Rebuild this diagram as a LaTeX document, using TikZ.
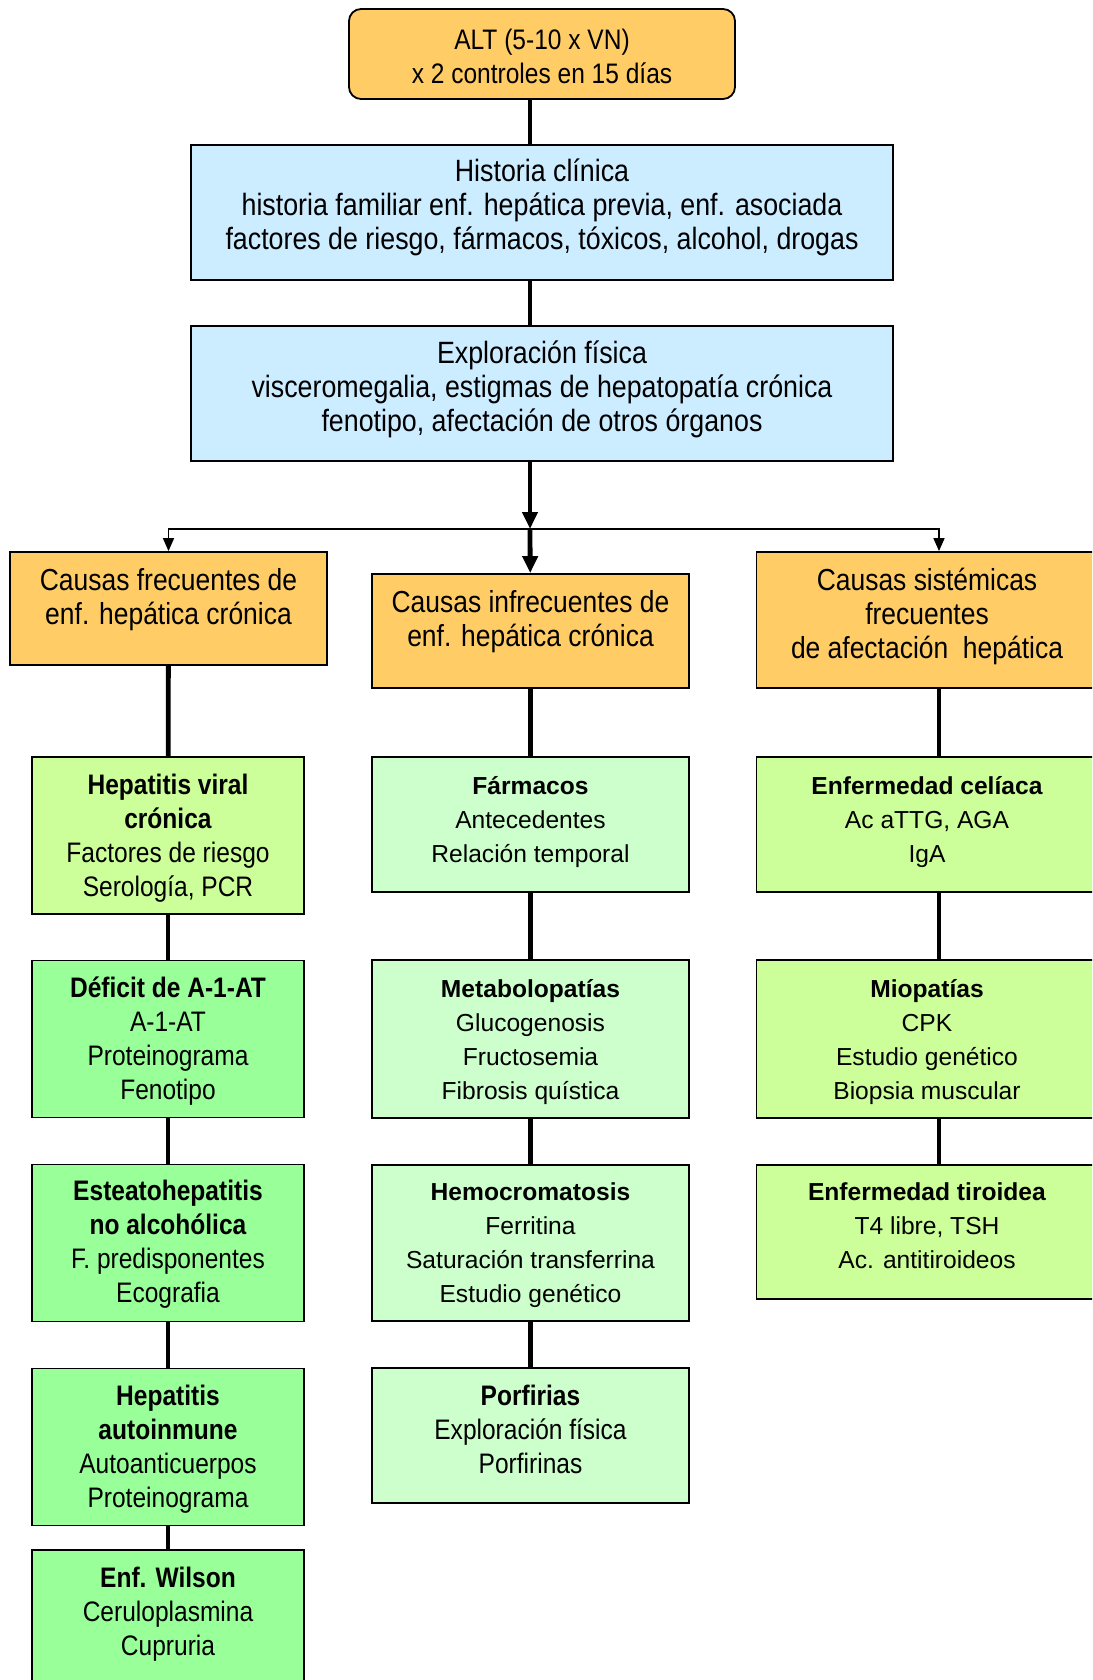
\documentclass[tikz,border=0pt]{standalone}
\usepackage{fontspec}
\setmainfont{Liberation Sans}
\newfontfamily\narrowfont[FakeStretch=0.87]{Liberation Sans}
\usepackage{tikz}
\usetikzlibrary{arrows.meta}

\definecolor{boxorange}{HTML}{FFCC66}
\definecolor{boxblue}{HTML}{CCECFF}
\definecolor{limegreen}{HTML}{CCFF99}
\definecolor{mintgreen}{HTML}{99FF99}
\definecolor{palegreen}{HTML}{CCFFCC}

\newcommand\nsmall{\narrowfont\fontsize{14.1}{17}\selectfont}
\newcommand\nlarge{\narrowfont\fontsize{15.4}{17}\selectfont}
\newcommand\nhead{\narrowfont\fontsize{15.2}{17}\selectfont}
\newcommand\rsmall{\fontsize{12.3}{17}\selectfont}
% text block, moved up (or down) inside its box
\newcommand\liftup[2][0pt]{\raisebox{#1}[\height][\depth]{\begin{tabular}{@{}c@{}}#2\end{tabular}}}

\begin{document}
\begin{tikzpicture}[x=0.5pt, y=-0.5pt,
        box/.style = {draw, line width=0.9pt, align=center, inner sep=0pt},
        start/.style = {box, fill=boxorange, rounded corners=6pt, font=\nsmall},
        exam/.style = {box, fill=boxblue, font=\nlarge, minimum width=351pt, minimum height=67.5pt},
        cause/.style = {box, fill=boxorange, font=\nhead, minimum width=158.5pt},
        leftbox/.style = {box, font=\nsmall, minimum width=136pt, minimum height=78.5pt},
        midbox/.style = {box, fill=palegreen, font=\rsmall, minimum width=158.5pt, minimum height=67.5pt},
        rightbox/.style = {box, fill=limegreen, font=\rsmall, minimum width=170.5pt, minimum height=67.5pt},
        link/.style = {line width=2.4pt},
        bigarrow/.style = {line width=2.4pt, -{Triangle[length=8.5pt,width=7.5pt]}},
        smallarrow/.style = {line width=0.8pt, -{Triangle[length=6.5pt,width=5.5pt]}}]
        \useasboundingbox (0,0) rectangle (1092,1680);
        \clip (0,0) rectangle (1092,1680);
        \node[start, minimum width=193pt, minimum height=45pt] (1) at (542,54) {\liftup[-3pt]{ALT (5-10 x VN)\\x 2 controles en 15 días}};
        \node[exam] (2) at (542,212.5) {\liftup[2pt]{Historia clínica\\historia familiar enf. hepática previa, enf. asociada\\factores de riesgo, fármacos, tóxicos, alcohol, drogas}};
        \node[exam] (3) at (542,393.5) {\liftup[1.6pt]{Exploración física\\visceromegalia, estigmas de hepatopatía crónica\\fenotipo, afectación de otros órganos}};
        \node[cause, minimum height=56.5pt] (4) at (168.5,608.5) {\liftup[4pt]{Causas frecuentes de\\enf. hepática crónica}};
        \node[cause, minimum height=57pt] (5) at (530.5,631) {\liftup[4pt]{Causas infrecuentes de\\enf. hepática crónica}};
        \node[cause, minimum width=170.5pt, minimum height=68pt] (6) at (927,620) {\liftup[1pt]{Causas sistémicas\\frecuentes\\de afectación~ hepática}};
        % frecuentes
        \node[leftbox, fill=limegreen] (7) at (168,835.5) {\liftup[-1.6pt]{\textbf{Hepatitis viral}\\\textbf{crónica}\\Factores de riesgo\\Serología, PCR}};
        \node[leftbox, fill=mintgreen] (8) at (168,1039) {\liftup[-1.5pt]{\textbf{Déficit de A-1-AT}\\A-1-AT\\Proteinograma\\Fenotipo}};
        \node[leftbox, fill=mintgreen] (9) at (168,1243) {\liftup[-1pt]{\textbf{Esteatohepatitis}\\\textbf{no alcohólica}\\F. predisponentes\\Ecografia}};
        \node[leftbox, fill=mintgreen] (10) at (168,1447) {\liftup[-1.5pt]{\textbf{Hepatitis}\\\textbf{autoinmune}\\Autoanticuerpos\\Proteinograma}};
        \node[leftbox, fill=mintgreen, minimum height=67.5pt] (11) at (168,1617.5) {\liftup[1.5pt]{\textbf{Enf. Wilson}\\Ceruloplasmina\\Cupruria}};
        % infrecuentes
        \node[midbox] (12) at (530.5,824.5) {\liftup[1.5pt]{\textbf{Fármacos}\\Antecedentes\\Relación temporal}};
        \node[midbox, minimum height=79pt] (13) at (530.5,1039) {\liftup[-1.5pt]{\textbf{Metabolopatías}\\Glucogenosis\\Fructosemia\\Fibrosis quística}};
        \node[midbox, minimum height=78pt] (14) at (530.5,1243) {\liftup[-1pt]{\textbf{Hemocromatosis}\\Ferritina\\Saturación transferrina\\Estudio genético}};
        \node[midbox, font=\nsmall] (15) at (530.5,1435.5) {\liftup[1.5pt]{\textbf{Porfirias}\\Exploración física\\Porfirinas}};
        % sistemicas
        \node[rightbox] (16) at (927,824.5) {\liftup[1.5pt]{\textbf{Enfermedad celíaca}\\Ac aTTG, AGA\\IgA}};
        \node[rightbox, minimum height=79pt] (17) at (927,1039) {\liftup[-1.5pt]{\textbf{Miopatías}\\CPK\\Estudio genético\\Biopsia muscular}};
        \node[rightbox, minimum height=67pt] (18) at (927,1232) {\liftup[2pt]{\textbf{Enfermedad tiroidea}\\T4 libre, TSH\\Ac. antitiroideos}};
        \coordinate (s) at (530,529);
        \coordinate (r) at (939,529);
        \draw[link] (1.south -| s) -- (2.north -| s);
        \draw[link] (2.south -| s) -- (3.north -| s);
        \draw[bigarrow] (3.south -| s) -- (s);
        \draw[bigarrow] (s) -- (5);
        \draw[smallarrow] (s) -| (4);
        \draw[smallarrow] (s) -- (r) -- (6.north -| r);
        \draw[link] (4) -- (7);
        \draw[link] (7) -- (8);
        \draw[link] (8) -- (9);
        \draw[link] (9) -- (10);
        \draw[link] (10) -- (11);
        \draw[link] (5) -- (12);
        \draw[link] (12) -- (13);
        \draw[link] (13) -- (14);
        \draw[link] (14) -- (15);
        \draw[link] (6.south -| r) -- (16.north -| r);
        \draw[link] (16.south -| r) -- (17.north -| r);
        \draw[link] (17.south -| r) -- (18.north -| r);
\end{tikzpicture}
\end{document}
